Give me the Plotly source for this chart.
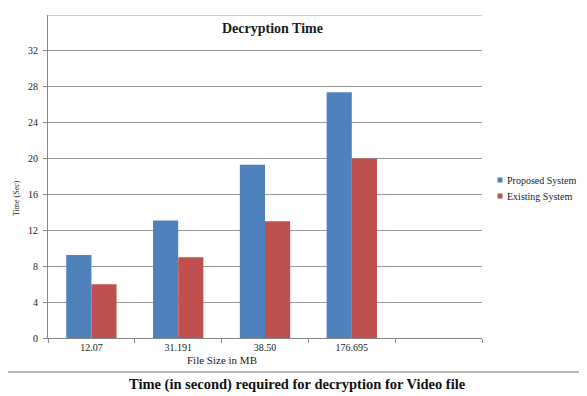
import plotly.graph_objects as go

categories = ["12.07", "31.191", "38.50", "176.695"]
proposed = [9.25, 13.1, 19.3, 27.4]
existing = [6.0, 9.0, 13.0, 20.0]
y_ticks = [0, 4, 8, 12, 16, 20, 24, 28, 32]
series_names = ["Proposed System", "Existing System"]
series_colors = ["#4F81BD", "#C0504D"]

# the page body has an 8px default margin; compensate so the figure lands
# on the reference pixel positions
OFF = 8
W, H = 587 - OFF, 396 - OFF
PLOT_L, PLOT_R, PLOT_T, PLOT_B = 48, 482, 15, 338  # reference pixels
L = PLOT_L - OFF
T = PLOT_T - OFF
R = W - (PLOT_R - OFF)
B = H - (PLOT_B - OFF)
pw, ph = PLOT_R - PLOT_L, PLOT_B - PLOT_T


def px(x):
    return (x - PLOT_L) / pw


def py(y):
    return (PLOT_B - y) / ph


xs = list(range(len(categories)))
font_family = "Liberation Serif, Times New Roman, serif"
txt = "#1a1a1a"

fig = go.Figure()
for name, vals, col in zip(series_names, [proposed, existing], series_colors):
    fig.add_trace(go.Bar(x=xs, y=vals, name=name, marker_color=col,
                         marker_line_width=0, showlegend=False))

fig.update_layout(
    width=W, height=H,
    margin=dict(l=L, r=R, t=T, b=B, autoexpand=False),
    paper_bgcolor="white", plot_bgcolor="white",
    barmode="group", bargap=0.42, bargroupgap=0,
    font=dict(family=font_family, color=txt, size=10),
    xaxis=dict(range=[-0.5, 4.5], tickvals=xs, ticktext=categories,
               ticks="", showgrid=False, zeroline=False,
               showline=True, linecolor="#888", linewidth=1,
               tickfont=dict(size=10, family=font_family, color=txt),
               minor=dict(ticks="outside", tick0=-0.5, dtick=1, ticklen=4,
                          tickcolor="#888", showgrid=False)),
    yaxis=dict(range=[0, 36], tickvals=y_ticks, ticks="outside", ticklen=4,
               tickcolor="#888", showgrid=True, gridcolor="#999", gridwidth=1,
               zeroline=False, showline=True, linecolor="#888", linewidth=1,
               ticklabelstandoff=3,
               tickfont=dict(size=10, family=font_family, color=txt)),
)

# top gridline at 36
fig.add_shape(type="line", xref="paper", yref="y", x0=0, x1=1, y0=36, y1=36,
              line=dict(color="#999", width=1))
# separator line above caption
fig.add_shape(type="line", xref="paper", yref="paper", x0=px(5), x1=px(587),
              y0=py(372), y1=py(372), line=dict(color="#777", width=1))

# legend (drawn as swatches + real text)
legend_rows = [180, 196]
for name, col, ry in zip(series_names, series_colors, legend_rows):
    fig.add_shape(type="rect", xref="paper", yref="paper",
                  x0=px(497.5), x1=px(502.5), y0=py(ry - 2.5), y1=py(ry + 2.5),
                  fillcolor=col, line=dict(width=0))
    fig.add_annotation(text=name, xref="paper", yref="paper",
                       x=px(505), y=py(ry), xanchor="left", yanchor="middle",
                       showarrow=False,
                       font=dict(size=10, family=font_family, color=txt))

fig.add_annotation(text="<b>Decryption Time</b>", xref="paper", yref="paper",
                   x=px(272), y=py(29), xanchor="center", yanchor="middle",
                   showarrow=False,
                   font=dict(size=14, family=font_family, color=txt))
fig.add_annotation(text="Time (Sec)", xref="paper", yref="paper",
                   x=px(16), y=py(198), xanchor="center", yanchor="middle",
                   showarrow=False, textangle=-90,
                   font=dict(size=8, family=font_family, color=txt))
fig.add_annotation(text="File Size in MB", xref="paper", yref="paper",
                   x=px(222), y=py(360), xanchor="center", yanchor="middle",
                   showarrow=False,
                   font=dict(size=11, family=font_family, color=txt))
fig.add_annotation(text="<b>Time (in second) required for decryption for Video file</b>",
                   xref="paper", yref="paper", x=px(297), y=py(384),
                   xanchor="center", yanchor="middle", showarrow=False,
                   font=dict(size=14.5, family=font_family, color="#111"))

fig.write_html("out.html")
